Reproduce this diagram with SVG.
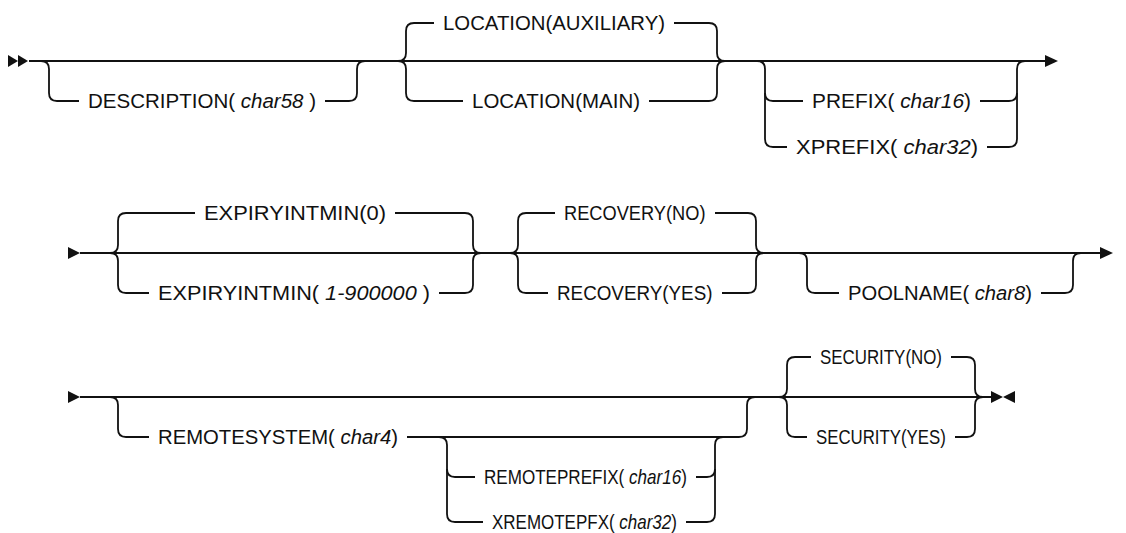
<svg xmlns="http://www.w3.org/2000/svg" width="1126" height="533" viewBox="0 0 1126 533">
<style>
.c{fill:none;stroke:#111;stroke-width:1.8}
.a{fill:#111;stroke:none}
text{font-family:"Liberation Sans",Arial,sans-serif;font-size:20px;fill:#111}
.i{font-style:italic}
</style>
<rect width="1126" height="533" fill="#fff"/>
<g id="connectors">
<path class="c" d="M29,61 H1046"/>
<path class="c" d="M41,61 Q49,61 49,69 L49,93 Q49,101 57,101 H79 M325,101 H349 Q357,101 357,93 L357,69 Q357,61 365,61"/>
<path class="c" d="M398,61 Q406,61 406,53 L406,31 Q406,23 414,23 H434 M674,23 H709 Q717,23 717,31 L717,53 Q717,61 725,61"/>
<path class="c" d="M398,61 Q406,61 406,69 L406,93 Q406,101 414,101 H463 M649,101 H709 Q717,101 717,93 L717,69 Q717,61 725,61"/>
<path class="c" d="M757,61 Q765,61 765,69 L765,139 Q765,147 773,147 H787 M987,147 H1009 Q1017,147 1017,139 L1017,69 Q1017,61 1025,61"/>
<path class="c" d="M765,93 Q765,101 773,101 H803 M980,101 H1009 Q1017,101 1017,93"/>
<polygon class="a" points="8,55 18,61 8,67"/>
<polygon class="a" points="18,55 28,61 18,67"/>
<polygon class="a" points="1045,55 1058,61 1045,67"/>

<path class="c" d="M80,253 H1101"/>
<path class="c" d="M110,253 Q118,253 118,245 L118,221 Q118,213 126,213 H195 M395,213 H465 Q473,213 473,221 L473,245 Q473,253 481,253"/>
<path class="c" d="M110,253 Q118,253 118,261 L118,285 Q118,293 126,293 H149 M439,293 H465 Q473,293 473,285 L473,261 Q473,253 481,253"/>
<path class="c" d="M510,253 Q518,253 518,245 L518,221 Q518,213 526,213 H555 M715,213 H748 Q756,213 756,221 L756,245 Q756,253 764,253"/>
<path class="c" d="M510,253 Q518,253 518,261 L518,285 Q518,293 526,293 H548 M722,293 H748 Q756,293 756,285 L756,261 Q756,253 764,253"/>
<path class="c" d="M799,253 Q807,253 807,261 L807,285 Q807,293 815,293 H839 M1041,293 H1065 Q1073,293 1073,285 L1073,261 Q1073,253 1081,253"/>
<polygon class="a" points="68,247 80,253 68,259"/>
<polygon class="a" points="1100,247 1113,253 1100,259"/>

<path class="c" d="M80,397 H992"/>
<path class="c" d="M110,397 Q118,397 118,405 L118,429 Q118,437 126,437 H149 M407,437 H739 Q747,437 747,429 L747,405 Q747,397 755,397"/>
<path class="c" d="M439,437 Q447,437 447,445 L447,514 Q447,522 455,522 H483 M686,522 H707 Q715,522 715,514 L715,445 Q715,437 723,437"/>
<path class="c" d="M447,469 Q447,477 455,477 H475 M696,477 H707 Q715,477 715,469"/>
<path class="c" d="M779,397 Q787,397 787,389 L787,365 Q787,357 795,357 H811 M951,357 H967 Q975,357 975,365 L975,389 Q975,397 983,397"/>
<path class="c" d="M779,397 Q787,397 787,405 L787,429 Q787,437 795,437 H807 M955,437 H967 Q975,437 975,429 L975,405 Q975,397 983,397"/>
<polygon class="a" points="68,391 80,397 68,403"/>
<polygon class="a" points="991,391 1003,397 991,403"/>
<polygon class="a" points="1015,391 1003,397 1015,403"/>
</g>
<g id="description"><text x="88" y="108" textLength="228" lengthAdjust="spacingAndGlyphs">DESCRIPTION( <tspan class="i">char58</tspan> )</text></g>
<g id="location-auxiliary"><text x="443" y="30" textLength="222" lengthAdjust="spacingAndGlyphs">LOCATION(AUXILIARY)</text></g>
<g id="location-main"><text x="472" y="108" textLength="168" lengthAdjust="spacingAndGlyphs">LOCATION(MAIN)</text></g>
<g id="prefix"><text x="812" y="108" textLength="159" lengthAdjust="spacingAndGlyphs">PREFIX( <tspan class="i">char16</tspan>)</text></g>
<g id="xprefix"><text x="796" y="154" textLength="182" lengthAdjust="spacingAndGlyphs">XPREFIX( <tspan class="i">char32</tspan>)</text></g>
<g id="expiryintmin-0"><text x="204" y="220" textLength="182" lengthAdjust="spacingAndGlyphs">EXPIRYINTMIN(0)</text></g>
<g id="expiryintmin-range"><text x="158" y="300" textLength="272" lengthAdjust="spacingAndGlyphs">EXPIRYINTMIN( <tspan class="i">1-900000</tspan> )</text></g>
<g id="recovery-no"><text transform="translate(564 220) scale(0.913 1)">RECOVERY(NO)</text></g>
<g id="recovery-yes"><text transform="translate(557 300) scale(0.942 1)">RECOVERY(YES)</text></g>
<g id="poolname"><text x="848" y="300" textLength="184" lengthAdjust="spacingAndGlyphs">POOLNAME( <tspan class="i">char8</tspan>)</text></g>
<g id="remotesystem"><text x="158" y="444" textLength="240" lengthAdjust="spacingAndGlyphs">REMOTESYSTEM( <tspan class="i">char4</tspan>)</text></g>
<g id="remoteprefix"><text transform="translate(484 484) scale(0.854 1)">REMOTEPREFIX( <tspan class="i">char16</tspan>)</text></g>
<g id="xremotepfx"><text transform="translate(492 529) scale(0.849 1)">XREMOTEPFX( <tspan class="i">char32</tspan>)</text></g>
<g id="security-no"><text transform="translate(820 364) scale(0.845 1)">SECURITY(NO)</text></g>
<g id="security-yes"><text transform="translate(816 444) scale(0.841 1)">SECURITY(YES)</text></g>
</svg>
